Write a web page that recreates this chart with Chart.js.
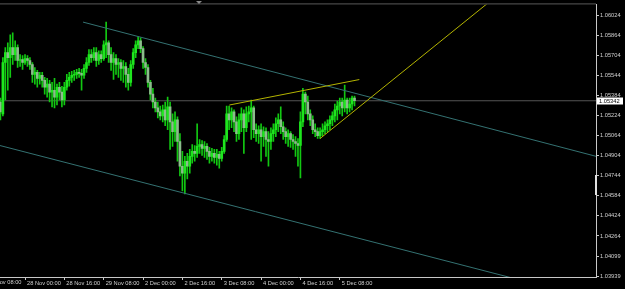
<!DOCTYPE html>
<html>
<head>
<meta charset="utf-8">
<script src="https://cdn.jsdelivr.net/npm/chart.js@4.4.1/dist/chart.umd.min.js"></script>
<style>
  html, body { margin: 0; padding: 0; background: #000; }
</style>
</head>
<body>
<canvas id="chart" width="625" height="289"></canvas>
<script>
// H1 bars, bar 0 = 28 Nov 00:00, first bar is index -11
const firstBar = -11;
const opens = [
    1.05293, 1.05332, 1.05237, 1.05647, 1.05726, 1.05686, 1.05765, 1.05710, 1.05765, 1.05663, 1.05670,
    1.05647, 1.05678, 1.05663, 1.05631, 1.05552, 1.05568, 1.05521, 1.05545, 1.05505, 1.05450,
    1.05474, 1.05411, 1.05426, 1.05371, 1.05450, 1.05411, 1.05348, 1.05450, 1.05505, 1.05529,
    1.05545, 1.05552, 1.05568, 1.05560, 1.05545, 1.05600, 1.05647, 1.05710, 1.05686, 1.05726,
    1.05663, 1.05710, 1.05678, 1.05788, 1.05804, 1.05710, 1.05647, 1.05678, 1.05631, 1.05647,
    1.05600, 1.05615, 1.05552, 1.05489, 1.05631, 1.05726, 1.05788, 1.05820, 1.05757, 1.05647,
    1.05607, 1.05489, 1.05395, 1.05332, 1.05285, 1.05253, 1.05222, 1.05269, 1.05190, 1.05293,
    1.05174, 1.05096, 1.05190, 1.05017, 1.04820, 1.04765, 1.04860, 1.04820, 1.04899, 1.04938,
    1.04923, 1.04978, 1.04993, 1.04962, 1.04978, 1.04938, 1.04899, 1.04923, 1.04891, 1.04915,
    1.04883, 1.04938, 1.05033, 1.05237, 1.05190, 1.05253, 1.05174, 1.05080, 1.05190, 1.05237,
    1.05127, 1.05237, 1.05253, 1.05285, 1.05111, 1.05080, 1.05111, 1.05056, 1.05096, 1.05033,
    1.05017, 1.05080, 1.05111, 1.05159, 1.05190, 1.05135, 1.05096, 1.05056, 1.05080, 1.05033,
    1.05017, 1.05001, 1.04985, 1.05174, 1.05395, 1.05332, 1.05237, 1.05190, 1.05111, 1.05096,
    1.05064, 1.05096, 1.05111, 1.05143, 1.05159, 1.05190, 1.05222, 1.05269, 1.05300, 1.05332,
    1.05285, 1.05348, 1.05285, 1.05316, 1.05363
];
const highs = [
    1.05371, 1.05363, 1.05686, 1.05765, 1.05804, 1.05867, 1.05883, 1.05820, 1.05788, 1.05710, 1.05702,
    1.05710, 1.05702, 1.05686, 1.05647, 1.05607, 1.05584, 1.05568, 1.05568, 1.05529, 1.05521,
    1.05505, 1.05489, 1.05521, 1.05474, 1.05489, 1.05458, 1.05489, 1.05552, 1.05568, 1.05576,
    1.05584, 1.05592, 1.05600, 1.05592, 1.05631, 1.05686, 1.05749, 1.05749, 1.05765, 1.05765,
    1.05741, 1.05741, 1.05820, 1.05969, 1.05820, 1.05765, 1.05726, 1.05710, 1.05678, 1.05670,
    1.05663, 1.05647, 1.05600, 1.05663, 1.05757, 1.05820, 1.05851, 1.05844, 1.05773, 1.05678,
    1.05631, 1.05505, 1.05442, 1.05363, 1.05332, 1.05300, 1.05308, 1.05332, 1.05371, 1.05332,
    1.05237, 1.05253, 1.05214, 1.05080, 1.04938, 1.04899, 1.04923, 1.04954, 1.04993, 1.04985,
    1.05159, 1.05033, 1.05025, 1.05017, 1.05001, 1.04970, 1.04962, 1.04954, 1.04954, 1.04938,
    1.04970, 1.05064, 1.05300, 1.05300, 1.05285, 1.05269, 1.05214, 1.05237, 1.05285, 1.05269,
    1.05293, 1.05300, 1.05348, 1.05300, 1.05159, 1.05143, 1.05159, 1.05135, 1.05127, 1.05096,
    1.05127, 1.05159, 1.05206, 1.05237, 1.05293, 1.05174, 1.05127, 1.05111, 1.05096, 1.05072,
    1.05056, 1.05041, 1.05253, 1.05442, 1.05411, 1.05379, 1.05269, 1.05222, 1.05159, 1.05127,
    1.05127, 1.05159, 1.05174, 1.05190, 1.05222, 1.05253, 1.05316, 1.05340, 1.05363, 1.05363,
    1.05466, 1.05363, 1.05363, 1.05379, 1.05379
];
const lows = [
    1.05190, 1.05190, 1.05222, 1.05348, 1.05426, 1.05529, 1.05631, 1.05663, 1.05607, 1.05615, 1.05592,
    1.05631, 1.05615, 1.05592, 1.05489, 1.05474, 1.05450, 1.05474, 1.05450, 1.05395, 1.05371,
    1.05332, 1.05293, 1.05285, 1.05308, 1.05348, 1.05293, 1.05308, 1.05426, 1.05458, 1.05489,
    1.05505, 1.05521, 1.05529, 1.05426, 1.05521, 1.05568, 1.05623, 1.05647, 1.05663, 1.05615,
    1.05631, 1.05647, 1.05663, 1.05686, 1.05647, 1.05584, 1.05513, 1.05552, 1.05529, 1.05505,
    1.05489, 1.05450, 1.05426, 1.05458, 1.05600, 1.05686, 1.05757, 1.05726, 1.05600, 1.05552,
    1.05450, 1.05348, 1.05285, 1.05253, 1.05206, 1.05190, 1.05174, 1.05143, 1.05111, 1.04954,
    1.04978, 1.05017, 1.04860, 1.04742, 1.04624, 1.04600, 1.04718, 1.04765, 1.04844, 1.04860,
    1.04891, 1.04923, 1.04907, 1.04891, 1.04875, 1.04844, 1.04860, 1.04844, 1.04828, 1.04805,
    1.04860, 1.04923, 1.05017, 1.05111, 1.05127, 1.05096, 1.05017, 1.05033, 1.05096, 1.04923,
    1.05096, 1.05174, 1.05033, 1.05048, 1.05017, 1.05001, 1.04860, 1.04978, 1.04899, 1.04820,
    1.04954, 1.05017, 1.05056, 1.05096, 1.05080, 1.05033, 1.05001, 1.04978, 1.04970, 1.04954,
    1.04899, 1.04820, 1.04726, 1.05135, 1.05237, 1.05190, 1.05143, 1.05080, 1.05056, 1.05041,
    1.05041, 1.05064, 1.05080, 1.05096, 1.05111, 1.05143, 1.05174, 1.05190, 1.05237, 1.05222,
    1.05253, 1.05237, 1.05253, 1.05269, 1.05300
];
const closes = [
    1.05332, 1.05253, 1.05647, 1.05726, 1.05686, 1.05765, 1.05710, 1.05765, 1.05663, 1.05670, 1.05647,
    1.05678, 1.05663, 1.05631, 1.05552, 1.05568, 1.05521, 1.05545, 1.05505, 1.05450, 1.05474,
    1.05411, 1.05426, 1.05371, 1.05450, 1.05411, 1.05348, 1.05450, 1.05505, 1.05529, 1.05545,
    1.05552, 1.05568, 1.05560, 1.05545, 1.05600, 1.05647, 1.05710, 1.05686, 1.05726, 1.05663,
    1.05710, 1.05678, 1.05788, 1.05804, 1.05710, 1.05647, 1.05678, 1.05631, 1.05647, 1.05600,
    1.05615, 1.05552, 1.05489, 1.05631, 1.05726, 1.05788, 1.05820, 1.05757, 1.05647, 1.05607,
    1.05489, 1.05395, 1.05332, 1.05285, 1.05253, 1.05222, 1.05269, 1.05190, 1.05293, 1.05174,
    1.05096, 1.05190, 1.05017, 1.04820, 1.04765, 1.04860, 1.04820, 1.04899, 1.04938, 1.04923,
    1.04978, 1.04993, 1.04962, 1.04978, 1.04938, 1.04899, 1.04923, 1.04891, 1.04915, 1.04883,
    1.04938, 1.05033, 1.05237, 1.05190, 1.05253, 1.05174, 1.05080, 1.05190, 1.05237, 1.05127,
    1.05237, 1.05253, 1.05285, 1.05111, 1.05080, 1.05111, 1.05056, 1.05096, 1.05033, 1.05017,
    1.05080, 1.05111, 1.05159, 1.05190, 1.05135, 1.05096, 1.05056, 1.05080, 1.05033, 1.05017,
    1.05001, 1.04985, 1.05174, 1.05395, 1.05332, 1.05237, 1.05190, 1.05111, 1.05096, 1.05064,
    1.05096, 1.05111, 1.05143, 1.05159, 1.05190, 1.05222, 1.05269, 1.05300, 1.05332, 1.05285,
    1.05348, 1.05285, 1.05316, 1.05363, 1.05342
];

const yTicks = [1.06024, 1.05864, 1.05704, 1.05544, 1.05384, 1.05224, 1.05064, 1.04904,
    1.04744, 1.04584, 1.04424, 1.04264, 1.04099, 1.03939];
const xTickBars = [0, 16, 32, 48, 64, 80, 96, 112, 128];
const xTickLabels = ['28 Nov 00:00', '28 Nov 16:00', '29 Nov 08:00', '2 Dec 00:00',
    '2 Dec 16:00', '3 Dec 08:00', '4 Dec 00:00', '4 Dec 16:00', '5 Dec 08:00'];
// label of the tick scrolled off the left edge
const hiddenTickBar = -16;
const hiddenTickLabel = '27 Nov 08:00';

const lastPrice = 1.05342;
// trend lines: [bar, price] end points
const channelTop = [[23.6, 1.05969], [232.4, 1.04898]];
const channelBottom = [[-16.5, 1.05017], [210, 1.03869]];
const wedgeTop = [[83.1, 1.05308], [135.95, 1.05511]];
const wedgeBottom = [[120.0, 1.05041], [200, 1.06307]];

const bars = closes.map((c, k) => firstBar + k);
const bodyColors = closes.map((c, k) => c >= opens[k] ? '#1ee61e' : '#8cbc8c');
const toPoints = (line) => line.map((p) => ({ x: p[0], y: p[1] }));

const labelFont = { family: "'Liberation Sans', Arial, sans-serif", size: 5.7 };

const mtDecor = {
    id: 'mtDecor',
    afterDraw(chart) {
        const ctx = chart.ctx;
        const area = chart.chartArea;
        const x = chart.scales.x;
        const y = chart.scales.y;
        ctx.save();
        ctx.font = `${labelFont.size}px ${labelFont.family}`;
        // frame top line
        ctx.strokeStyle = '#5a5a5a';
        ctx.lineWidth = 1;
        ctx.beginPath();
        ctx.moveTo(0, area.top - 0.5);
        ctx.lineTo(area.right, area.top - 0.5);
        ctx.stroke();
        // time label cut by the left edge
        ctx.fillStyle = '#d0d0d0';
        ctx.textAlign = 'left';
        ctx.textBaseline = 'top';
        ctx.fillText(hiddenTickLabel, x.getPixelForValue(hiddenTickBar) + 2, area.bottom + 3);
        // chart shift marker
        ctx.fillStyle = '#8a8a8a';
        ctx.beginPath();
        ctx.moveTo(196, 1);
        ctx.lineTo(202, 1);
        ctx.lineTo(199, 4);
        ctx.closePath();
        ctx.fill();
        // current price box
        const py = Math.round(y.getPixelForValue(lastPrice));
        ctx.fillStyle = '#ffffff';
        ctx.fillRect(area.right + 1, py - 3.5, 26, 7);
        ctx.fillStyle = '#000000';
        ctx.textBaseline = 'middle';
        ctx.fillText(lastPrice.toFixed(5), area.right + 3, py);
        // scroll marker on the price axis
        ctx.strokeStyle = '#e0e0e0';
        ctx.strokeRect(area.right - 0.5, 175.5, 1, 19);
        ctx.restore();
    }
};

new Chart(document.getElementById('chart'), {
    type: 'bar',
    data: {
        datasets: [
            {
                type: 'line',
                data: toPoints(wedgeTop),
                borderColor: '#b4b400',
                borderWidth: 1,
                pointRadius: 0,
                order: 0
            },
            {
                type: 'line',
                data: toPoints(wedgeBottom),
                borderColor: '#b4b400',
                borderWidth: 1,
                pointRadius: 0,
                order: 0
            },
            {
                type: 'line',
                data: toPoints(channelTop),
                borderColor: '#347272',
                borderWidth: 1,
                pointRadius: 0,
                order: 0
            },
            {
                type: 'line',
                data: toPoints(channelBottom),
                borderColor: '#347272',
                borderWidth: 1,
                pointRadius: 0,
                order: 0
            },
            {
                data: bars.map((b, k) => ({ x: b, y: [opens[k], closes[k]] })),
                backgroundColor: bodyColors,
                barThickness: 2,
                minBarLength: 1,
                order: 2
            },
            {
                data: bars.map((b, k) => ({ x: b, y: [lows[k], highs[k]] })),
                backgroundColor: '#12c812',
                barThickness: 1,
                order: 3
            },
            {
                type: 'line',
                data: [{ x: -20, y: lastPrice }, { x: 240, y: lastPrice }],
                borderColor: '#555555',
                borderWidth: 1,
                pointRadius: 0,
                order: 4
            }
        ]
    },
    options: {
        responsive: false,
        animation: false,
        events: [],
        layout: { padding: { top: 2, left: 0, right: 0, bottom: 0 } },
        datasets: { bar: { grouped: false } },
        plugins: {
            legend: { display: false },
            tooltip: { enabled: false }
        },
        scales: {
            x: {
                type: 'linear',
                min: -10.17,
                max: 232.2,
                offset: false,
                afterFit: (scale) => { scale.height = 12; },
                afterBuildTicks: (scale) => { scale.ticks = xTickBars.map((v) => ({ value: v })); },
                grid: { drawOnChartArea: false, drawTicks: true, tickLength: 3, color: '#c8c8c8', offset: false },
                border: { color: '#c8c8c8' },
                ticks: {
                    autoSkip: false,
                    maxRotation: 0,
                    minRotation: 0,
                    align: 'start',
                    labelOffset: 2,
                    padding: 0,
                    color: '#d0d0d0',
                    font: labelFont,
                    callback: (v) => xTickLabels[xTickBars.indexOf(v)]
                }
            },
            y: {
                type: 'linear',
                position: 'right',
                min: 1.03937,
                max: 1.06110,
                beginAtZero: false,
                afterFit: (scale) => { scale.width = 29; },
                afterBuildTicks: (scale) => { scale.ticks = yTicks.map((v) => ({ value: v })); },
                grid: { drawOnChartArea: false, drawTicks: true, tickLength: 3, color: '#c8c8c8' },
                border: { color: '#c8c8c8' },
                ticks: {
                    padding: 1,
                    color: '#d0d0d0',
                    font: labelFont,
                    callback: (v) => v.toFixed(5)
                }
            }
        }
    },
    plugins: [mtDecor]
});
</script>
</body>
</html>
